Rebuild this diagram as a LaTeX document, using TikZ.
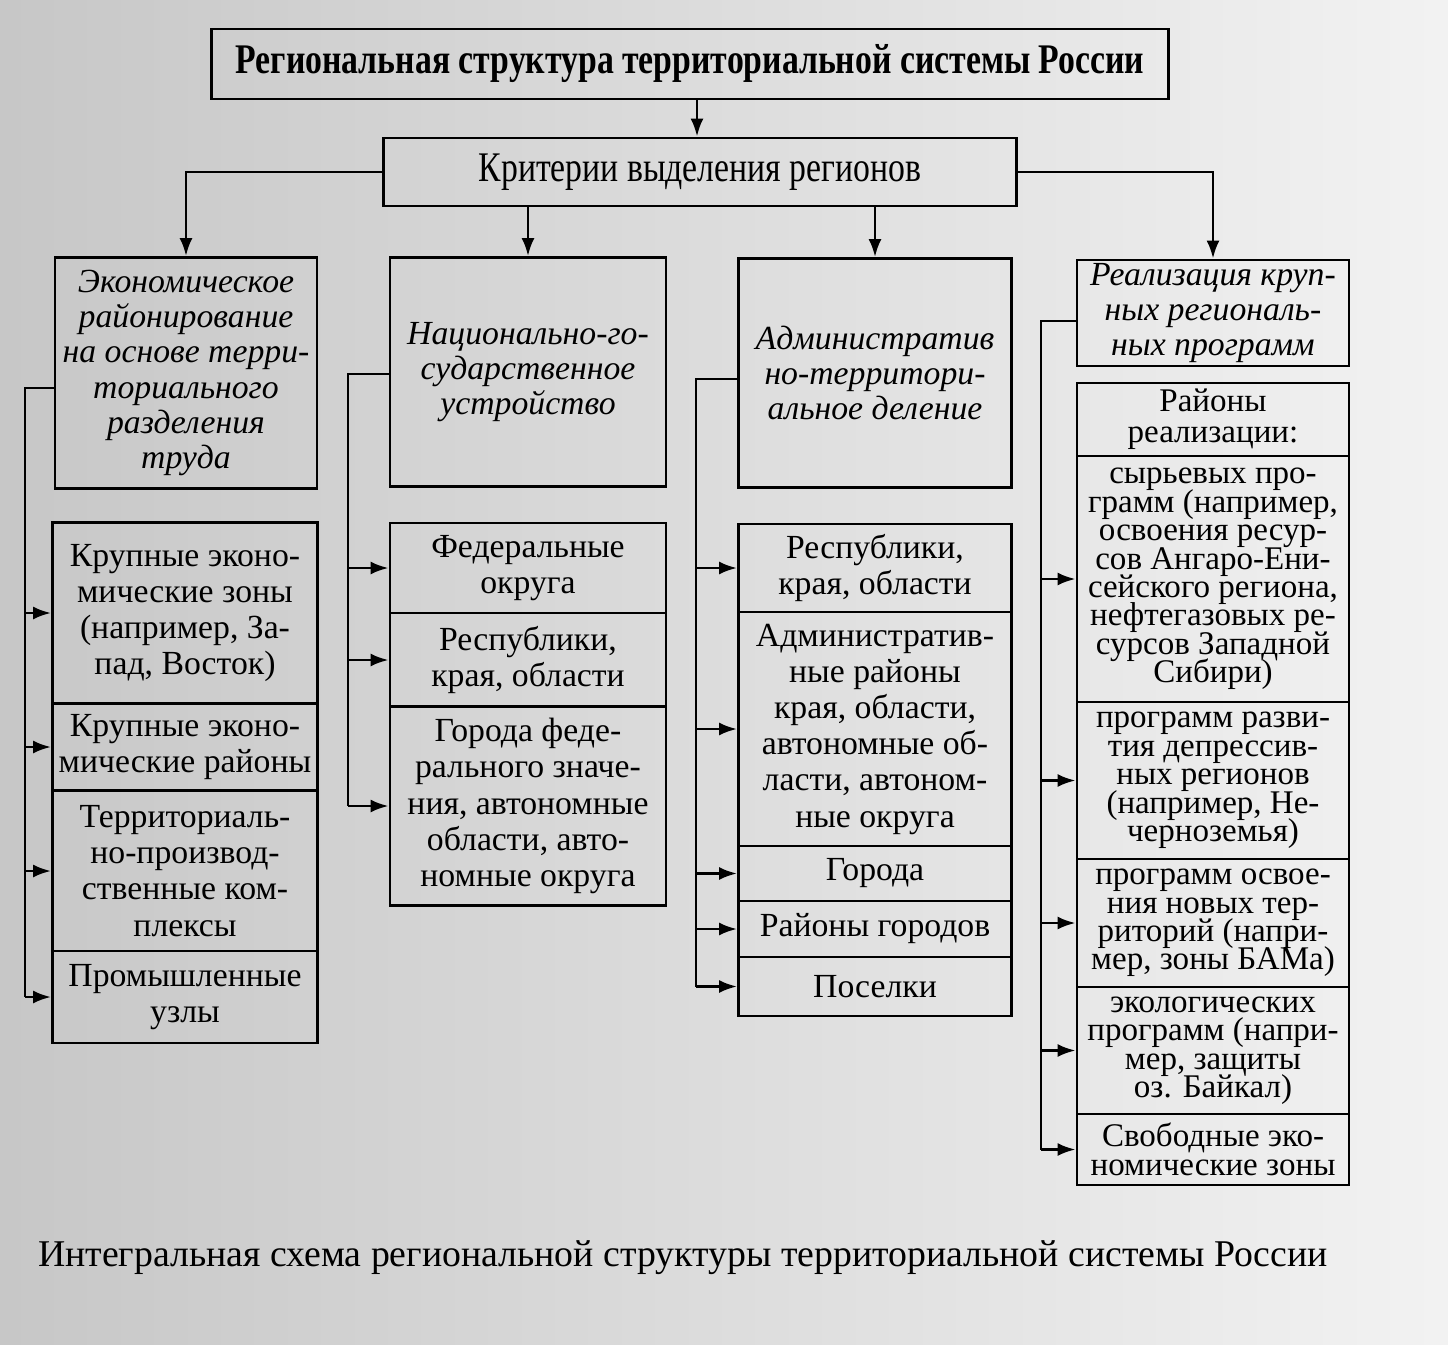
\documentclass[tikz,border=0pt]{standalone}
\usepackage{fontspec}
\setmainfont{Liberation Serif}
\newfontfamily\condserif[FakeStretch=0.8]{Liberation Serif}
\usetikzlibrary{arrows.meta}

\tikzset{
  box/.style={draw, thick, align=center, inner sep=0pt, font=\fontsize{9.6}{10.3}\selectfont},
  headbox/.style={box, font=\fontsize{9.6}{10}\selectfont\itshape},
  tightbox/.style={box, font={\fontsize{9.4}{8.1}\selectfont\lineskiplimit-5pt\relax}},
  arr/.style={-{Latex[length=1.8mm,width=1.3mm]}, thick},
}

\begin{document}
\begin{tikzpicture}[x=0.1mm,y=-0.1mm]
\shade[left color=black!22, right color=black!5] (0,0) rectangle (1448,1344);
\useasboundingbox (0,0) rectangle (1448,1344);

\node[box, minimum width=95.7mm, minimum height=7mm, font=\fontsize{12}{13}\selectfont\condserif\bfseries] (title) at (690,64)
  {Региональная структура территориальной системы России};
\node[box, minimum width=63.3mm, minimum height=6.8mm, font=\fontsize{12}{13}\selectfont\condserif] (crit) at (700,172)
  {Критерии выделения регионов};

\node[headbox, minimum width=26.2mm, minimum height=23.1mm] (h1) at (186,373)
  {Экономическое\\районирование\\на основе терри-\\ториального\\разделения\\труда};
\node[headbox, minimum width=27.6mm, minimum height=22.9mm] (h2) at (528,372)
  {Национально-го-\\сударственное\\устройство};
\node[headbox, minimum width=27.3mm, minimum height=22.9mm] (h3) at (875,373)
  {Административ\\но-территори-\\альное деление};
\node[headbox, minimum width=27.2mm, minimum height=10.6mm] (h4) at (1213,313)
  {Реализация круп-\\ных региональ-\\ных программ};

\node[box, minimum width=26.5mm, minimum height=18.1mm] (s1a) at (185,613)
  {Крупные эконо-\\мические зоны\\(например, За-\\пад, Восток)};
\node[box, minimum width=26.5mm, minimum height=8.7mm] (s1b) at (185,747)
  {Крупные эконо-\\мические районы};
\node[box, minimum width=26.5mm, minimum height=16mm] (s1c) at (185,871)
  {Территориаль-\\но-производ-\\ственные ком-\\плексы};
\node[box, minimum width=26.5mm, minimum height=9.2mm] (s1d) at (185,997)
  {Промышленные\\узлы};

\node[box, minimum width=27.6mm, minimum height=9mm] (s2a) at (528,568)
  {Федеральные\\округа};
\node[box, minimum width=27.6mm, minimum height=9.4mm] (s2b) at (528,660)
  {Республики,\\края, области};
\node[box, minimum width=27.6mm, minimum height=19.9mm] (s2c) at (528,806)
  {Города феде-\\рального значе-\\ния, автономные\\области, авто-\\номные округа};

\node[box, minimum width=27.3mm, minimum height=8.8mm] (s3a) at (875,568)
  {Республики,\\края, области};
\node[box, minimum width=27.3mm, minimum height=23.4mm] (s3b) at (875,729)
  {Административ-\\ные районы\\края, области,\\автономные об-\\ласти, автоном-\\ные округа};
\node[box, minimum width=27.3mm, minimum height=5.5mm] (s3c) at (875,873.5)
  {Города};
\node[box, minimum width=27.3mm, minimum height=5.6mm] (s3d) at (875,929)
  {Районы городов};
\node[box, minimum width=27.3mm, minimum height=5.9mm] (s3e) at (875,986.5)
  {Поселки};

\node[box, minimum width=27.2mm, minimum height=7.3mm, font={\fontsize{9.4}{8.8}\selectfont\lineskiplimit-5pt\relax}] (s4a) at (1213,419.5)
  {Районы\\реализации:};
\node[tightbox, minimum width=27.2mm, minimum height=24.6mm] (s4b) at (1213,579)
  {сырьевых про-\\грамм (например,\\освоения ресур-\\сов Ангаро-Ени-\\сейского региона,\\нефтегазовых ре-\\сурсов Западной\\Сибири)};
\node[tightbox, minimum width=27.2mm, minimum height=15.7mm] (s4c) at (1213,780.5)
  {программ разви-\\тия депрессив-\\ных регионов\\(например, Не-\\черноземья)};
\node[tightbox, minimum width=27.2mm, minimum height=12.8mm] (s4d) at (1213,923)
  {программ освое-\\ния новых тер-\\риторий (напри-\\мер, зоны БАМа)};
\node[tightbox, minimum width=27.2mm, minimum height=12.7mm] (s4e) at (1213,1050.5)
  {экологических\\программ (напри-\\мер, защиты\\оз. Байкал)};
\node[tightbox, minimum width=27.2mm, minimum height=7.1mm] (s4f) at (1213,1149.5)
  {Свободные эко-\\номические зоны};

\node[font=\fontsize{10.75}{12}\selectfont] (cap) at (683,1258)
  {Интегральная схема региональной структуры территориальной системы России};

\coordinate (t1) at (697,0);
\draw[arr] (title.south -| t1) -- (crit.north -| t1);
\draw[arr] (crit.west) -| (h1.north);
\draw[arr] (crit.east) -| (h4.north);
\draw[arr] (crit.south -| h2.north) -- (h2.north);
\draw[arr] (crit.south -| h3.north) -- (h3.north);

\coordinate (k1) at (25,388);
\coordinate (k2) at (348,374);
\coordinate (k3) at (696,379);
\coordinate (k4) at (1041,321);

\draw[thick] (h1.west |- k1) -- (k1) -- (k1 |- s1d.west);
\foreach \c in {s1a,s1b,s1c,s1d} \draw[arr] (k1 |- \c.west) -- (\c.west);
\draw[thick] (h2.west |- k2) -- (k2) -- (k2 |- s2c.west);
\foreach \c in {s2a,s2b,s2c} \draw[arr] (k2 |- \c.west) -- (\c.west);
\draw[thick] (h3.west |- k3) -- (k3) -- (k3 |- s3e.west);
\foreach \c in {s3a,s3b,s3c,s3d,s3e} \draw[arr] (k3 |- \c.west) -- (\c.west);
\draw[thick] (h4.west |- k4) -- (k4) -- (k4 |- s4f.west);
\foreach \c in {s4b,s4c,s4d,s4e,s4f} \draw[arr] (k4 |- \c.west) -- (\c.west);
\end{tikzpicture}
\end{document}
